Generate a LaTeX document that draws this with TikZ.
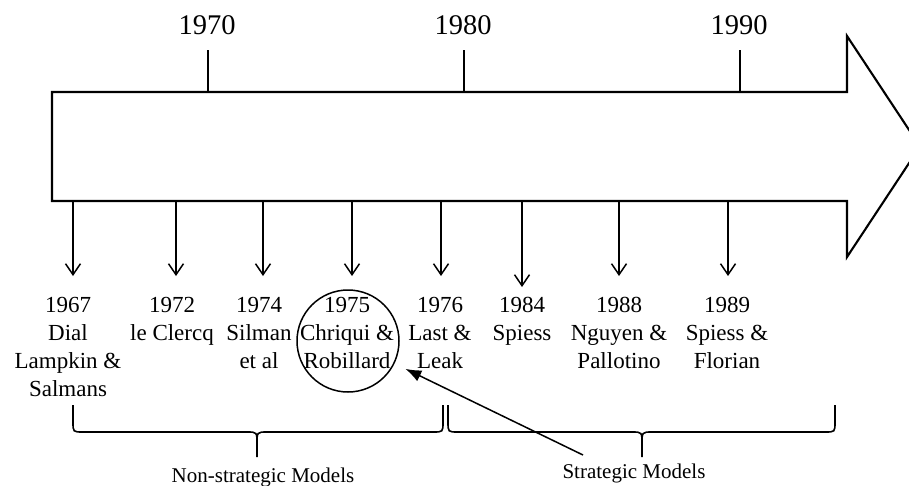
\documentclass[tikz,border=0pt]{standalone}
\usepackage{fontspec}
\setmainfont{Liberation Serif}
\usetikzlibrary{arrows.meta,calc}
\begin{document}
\begin{tikzpicture}[x=1pt,y=-1pt,
  timeline/.style={line width=2.1pt, line join=miter},
  tick/.style={line width=1.5pt},
  drop/.style={line width=1.5pt, -{Straight Barb[length=11pt,width=15pt]}},
  decade/.style={anchor=base, inner sep=0pt, font=\fontsize{28.5}{32}\selectfont},
  entry/.style={anchor=base, inner sep=0pt, align=center, font=\fontsize{23}{27.7}\selectfont},
  group/.style={anchor=base, inner sep=0pt, font=\fontsize{21}{24}\selectfont},
  ring/.style={circle, draw, line width=1.5pt, minimum size=102pt, inner sep=0pt},
  pointer/.style={line width=1.5pt, -{Latex[length=16pt,width=12pt]}},
  brace/.style={line width=1.6pt},
  pics/ubrace/.style n args={3}{code={
    \draw[brace] (#1,405) -- (#1,422) .. controls (#1,432) .. (#1+10,432)
      -- (#2-10,432) .. controls (#2,432) .. (#2,444) -- (#2,457)
      (#2,444) .. controls (#2,432) .. (#2+10,432)
      -- (#3-10,432) .. controls (#3,432) .. (#3,422) -- (#3,405);
  }}]
\clip (0,0) rectangle (909,485);
\useasboundingbox (0,0) rectangle (909,485);

% timeline arrow
\draw[timeline] (52,92) -- (847,92) -- (847,36) -- (920,146.5)
  -- (847,257) -- (847,201) -- (52,201) -- cycle;

% decade ticks
\foreach \x/\yr in {208/1970, 464/1980, 740/1990} {
  \coordinate (t\yr) at (\x,50);
  \draw[tick] (t\yr) -- (\x,92);
  \node[decade] (d\yr) at (\x-1,34) {\yr};
}

% model entries (anchored on the baseline of their last line)
\node[entry] (e1967) at (68,396) {1967\\Dial\\Lampkin \&\\Salmans};
\node[entry] (e1972) at (172,340) {1972\\le Clercq};
\node[entry] (e1974) at (259,368) {1974\\Silman\\et al};
\node[entry] (e1975) at (347,368) {1975\\Chriqui \&\\Robillard};
\node[entry] (e1976) at (440,368) {1976\\Last \&\\Leak};
\node[entry] (e1984) at (522,340) {1984\\Spiess};
\node[entry] (e1988) at (619,368) {1988\\Nguyen \&\\Pallotino};
\node[entry] (e1989) at (727,368) {1989\\Spiess \&\\Florian};

% drops from the timeline
\foreach \x/\tip/\n in {73/276/a, 176/276/b, 263/276/c, 352/276/d, 441/276/e,
                        522/287/f, 619/276/g, 728/276/h} {
  \coordinate (s\n) at (\x,201);
  \coordinate (p\n) at (\x,\tip);
  \draw[drop] (s\n) -- (p\n);
}

% highlight
\node[ring] (circ) at (348,341) {};

% groupings
\pic {ubrace={73}{257}{443}};
\pic {ubrace={448}{642}{835}};
\node[group] (nonstrat) at (263,482) {Non-strategic Models};
\node[group] (strat) at (634,478) {Strategic Models};

\coordinate (ptr) at (583,455);
\draw[pointer, shorten >=12pt] (ptr) -- (circ);
\end{tikzpicture}
\end{document}
